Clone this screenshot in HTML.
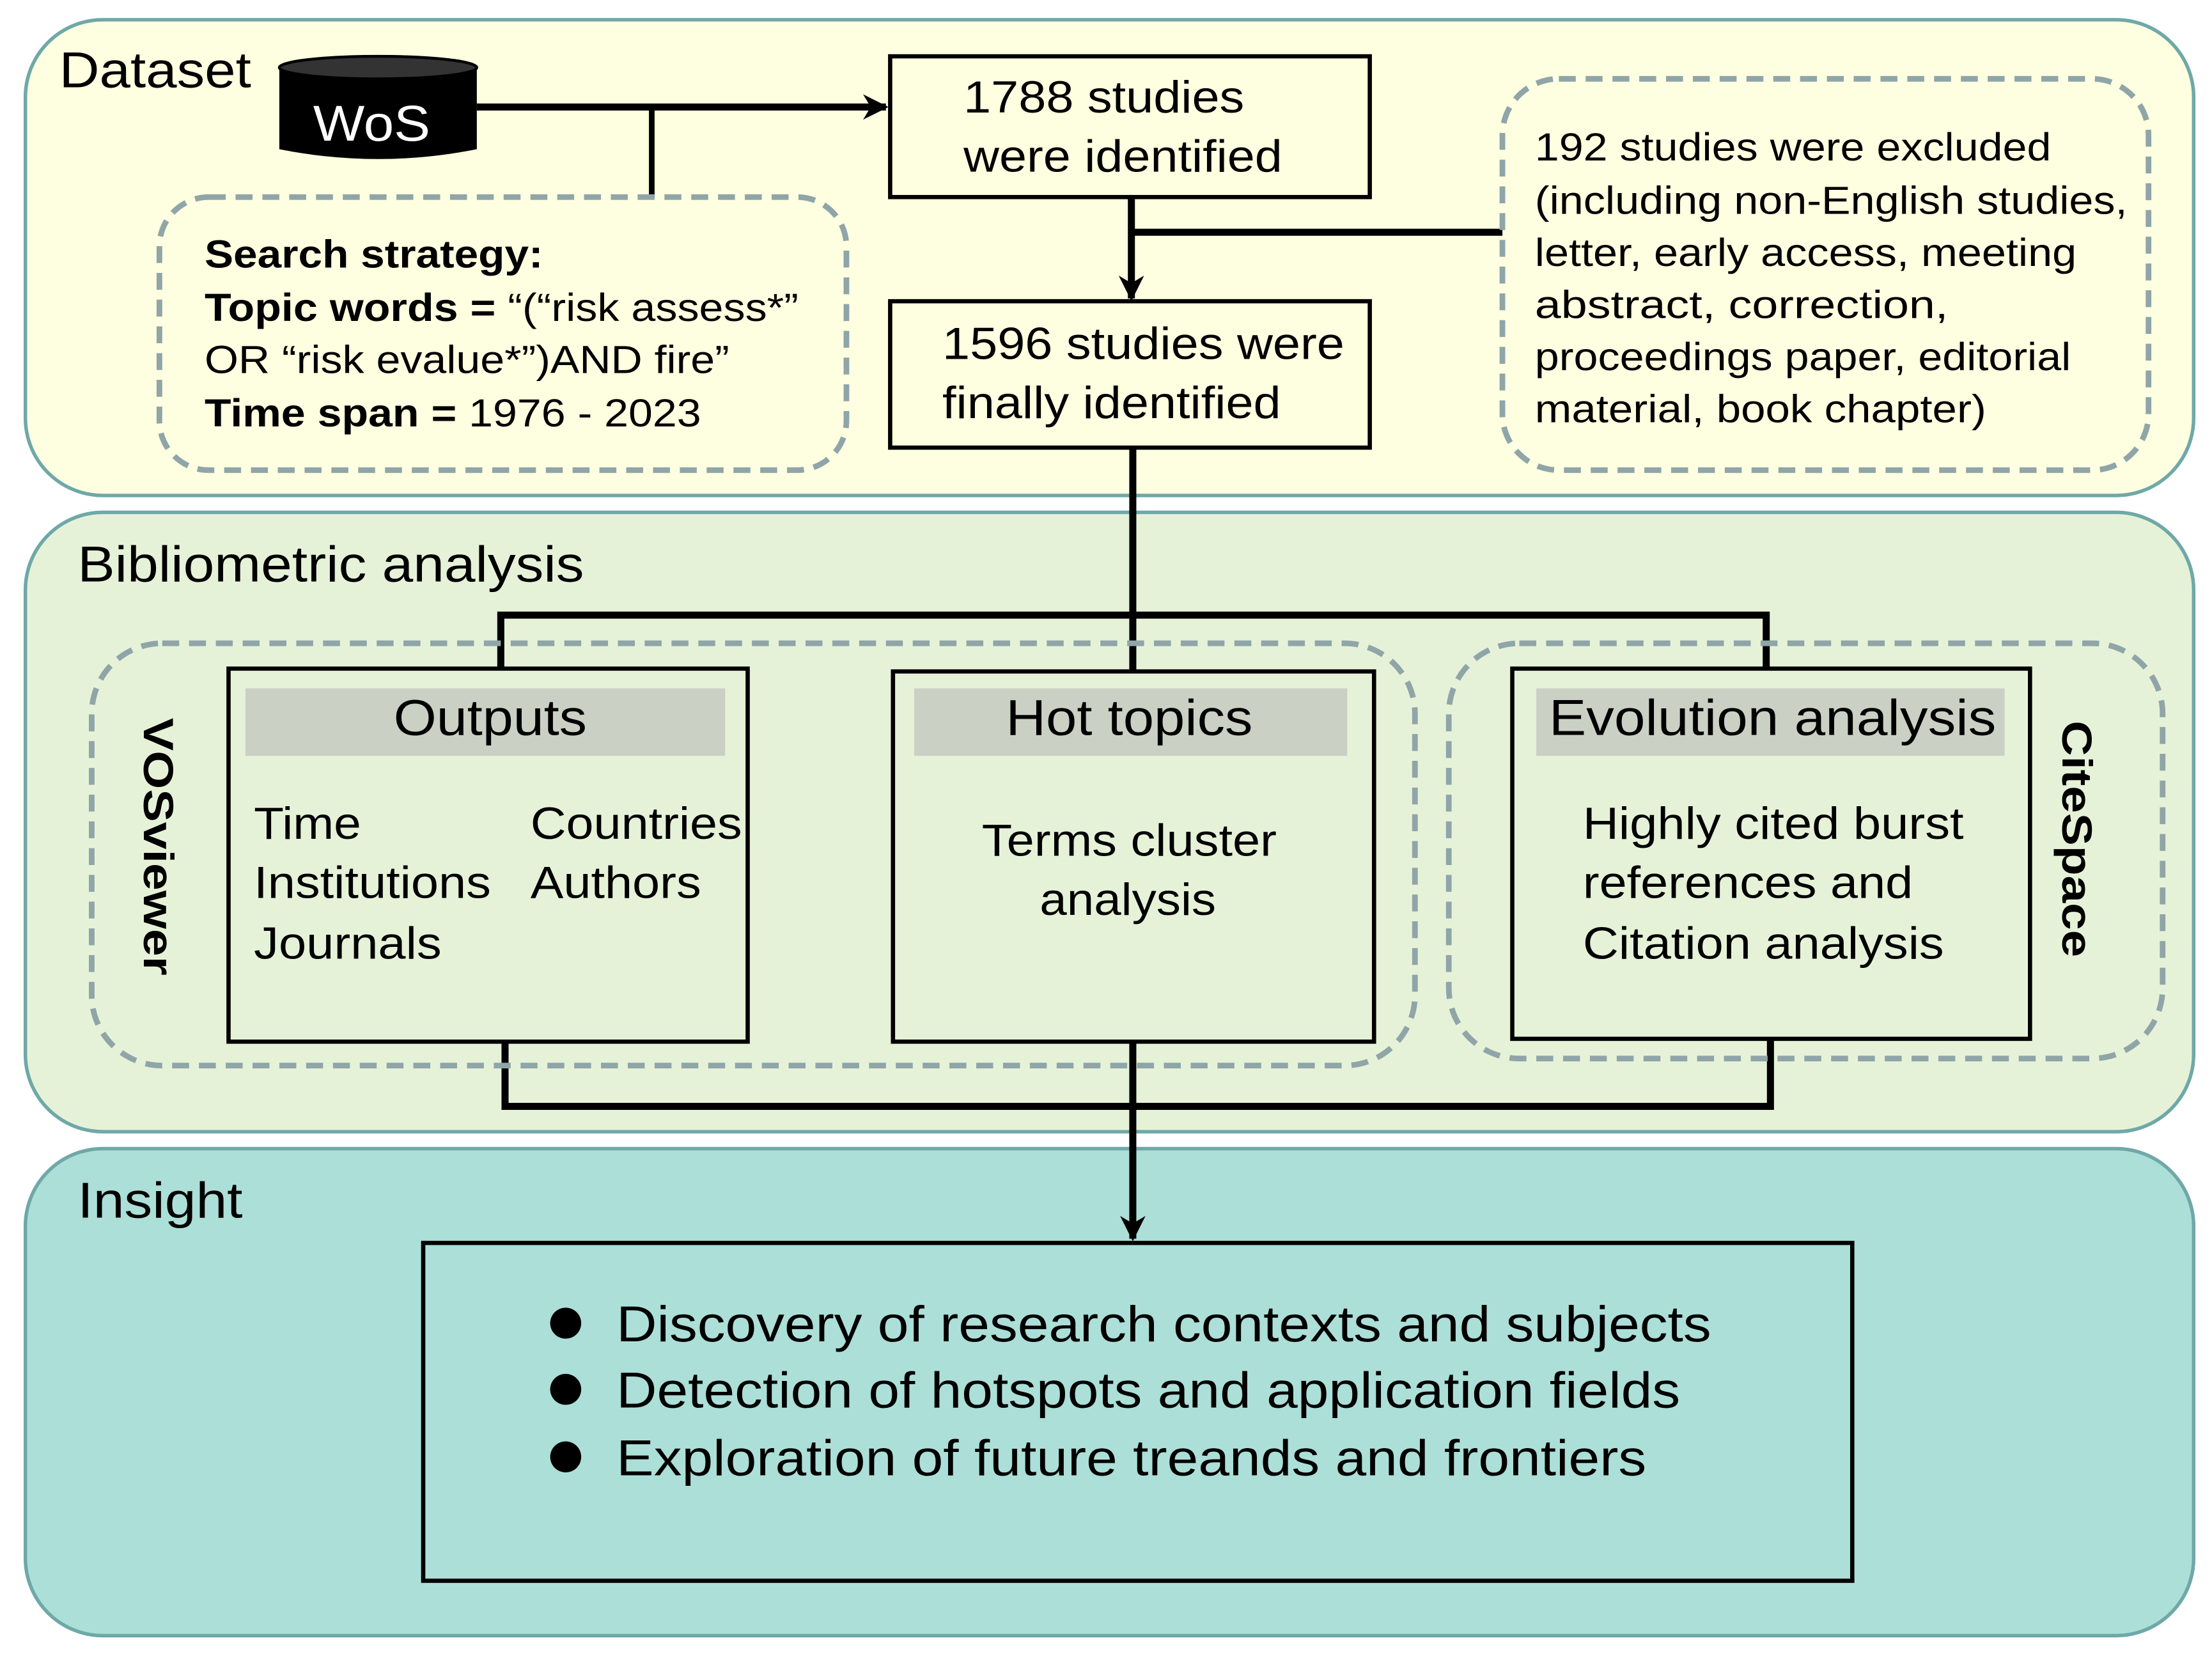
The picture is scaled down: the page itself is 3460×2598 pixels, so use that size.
<!DOCTYPE html>
<html><head><meta charset="utf-8"><style>html,body{margin:0;padding:0;background:#fff}svg{display:block}</style></head>
<body>
<svg width="3460" height="2598" viewBox="0 0 1568 1180" preserveAspectRatio="none" xmlns="http://www.w3.org/2000/svg" font-family="Liberation Sans, Arial, sans-serif">
<defs>
<marker id="ah" viewBox="0 0 10 10" refX="9" refY="5" markerWidth="30" markerHeight="18" markerUnits="userSpaceOnUse" orient="auto"><path d="M0,0 L10,5 L0,10 L3,5 z" fill="#000"/></marker>
</defs>
<rect x="18" y="14" width="1537" height="338" rx="55" fill="#fefee0" stroke="#6fa8a8" stroke-width="2.5"/>
<rect x="18" y="364" width="1537" height="440" rx="55" fill="#e6f2d8" stroke="#6fa8a8" stroke-width="2.5"/>
<rect x="18" y="816" width="1537" height="346" rx="55" fill="#acdfd8" stroke="#6fa8a8" stroke-width="2.5"/>

<g lengthAdjust="spacingAndGlyphs">
<text x="42" y="62" font-size="36" textLength="136" lengthAdjust="spacingAndGlyphs">Dataset</text>
<text x="55" y="413" font-size="36" textLength="359" lengthAdjust="spacingAndGlyphs">Bibliometric analysis</text>
<text x="55" y="865" font-size="36" textLength="117" lengthAdjust="spacingAndGlyphs">Insight</text>
</g>

<path d="M198,48 L198,106 Q268,120 338,106 L338,48 Z" fill="#000"/>
<ellipse cx="268" cy="48" rx="70" ry="8" fill="#333" stroke="#000" stroke-width="2"/>
<text x="222" y="100" font-size="36" fill="#fff" textLength="83" lengthAdjust="spacingAndGlyphs">WoS</text>

<line x1="338" y1="76" x2="628" y2="76" stroke="#000" stroke-width="5" marker-end="url(#ah)"/>
<line x1="462" y1="76" x2="462" y2="140" stroke="#000" stroke-width="4"/>
<line x1="802" y1="140" x2="802" y2="212" stroke="#000" stroke-width="5" marker-end="url(#ah)"/>
<line x1="802" y1="165" x2="1065" y2="165" stroke="#000" stroke-width="5"/>

<rect x="113" y="140" width="487" height="194" rx="35" fill="none" stroke="#8fa5a8" stroke-width="4" stroke-dasharray="12,7"/>
<g font-size="28">
<text x="145" y="190" font-weight="bold" textLength="240" lengthAdjust="spacingAndGlyphs">Search strategy:</text>
<text x="145" y="228" textLength="421" lengthAdjust="spacingAndGlyphs"><tspan font-weight="bold">Topic words = </tspan>“(“risk assess*”</text>
<text x="145" y="265" textLength="372" lengthAdjust="spacingAndGlyphs">OR “risk evalue*”)AND fire”</text>
<text x="145" y="303" textLength="352" lengthAdjust="spacingAndGlyphs"><tspan font-weight="bold">Time span = </tspan>1976 - 2023</text>
</g>

<rect x="631" y="40" width="340" height="100" fill="#fefee0" stroke="#000" stroke-width="3"/>
<text x="683" y="80" font-size="32" textLength="199" lengthAdjust="spacingAndGlyphs">1788 studies</text>
<text x="683" y="122" font-size="32" textLength="226" lengthAdjust="spacingAndGlyphs">were identified</text>
<rect x="631" y="214" width="340" height="104" fill="#fefee0" stroke="#000" stroke-width="3"/>
<text x="668" y="255" font-size="32" textLength="285" lengthAdjust="spacingAndGlyphs">1596 studies were</text>
<text x="668" y="297" font-size="32" textLength="240" lengthAdjust="spacingAndGlyphs">finally identified</text>

<rect x="1065" y="56" width="458" height="278" rx="40" fill="none" stroke="#8fa5a8" stroke-width="4" stroke-dasharray="12,7"/>
<g font-size="28">
<text x="1088" y="114" textLength="366" lengthAdjust="spacingAndGlyphs">192 studies were excluded</text>
<text x="1088" y="152" textLength="420" lengthAdjust="spacingAndGlyphs">(including non-English studies,</text>
<text x="1088" y="189" textLength="384" lengthAdjust="spacingAndGlyphs">letter, early access, meeting</text>
<text x="1088" y="226" textLength="293" lengthAdjust="spacingAndGlyphs">abstract, correction,</text>
<text x="1088" y="263" textLength="380" lengthAdjust="spacingAndGlyphs">proceedings paper, editorial</text>
<text x="1088" y="300" textLength="320" lengthAdjust="spacingAndGlyphs">material, book chapter)</text>
</g>

<line x1="803" y1="318" x2="803" y2="477" stroke="#000" stroke-width="5"/>
<polyline points="355,475 355,437 1252,437 1252,475" fill="none" stroke="#000" stroke-width="5"/>
<polyline points="358,740 358,786 1255,786 1255,738" fill="none" stroke="#000" stroke-width="5"/>
<line x1="803" y1="740" x2="803" y2="880" stroke="#000" stroke-width="5" marker-end="url(#ah)"/>

<rect x="65" y="457" width="938" height="300" rx="50" fill="none" stroke="#8fa5a8" stroke-width="4" stroke-dasharray="12,7"/>
<rect x="1027" y="457" width="506" height="295" rx="50" fill="none" stroke="#8fa5a8" stroke-width="4" stroke-dasharray="12,7"/>
<text transform="translate(102,510) rotate(90)" font-size="30" font-weight="bold" textLength="183" lengthAdjust="spacingAndGlyphs">VOSviewer</text>
<text transform="translate(1462,512) rotate(90)" font-size="30" font-weight="bold" textLength="168" lengthAdjust="spacingAndGlyphs">CiteSpace</text>

<rect x="162" y="475" width="368" height="265" fill="#e6f2d8" stroke="#000" stroke-width="3"/>
<rect x="174" y="489" width="340" height="48" fill="#cbd0c4"/>
<text x="279" y="522" font-size="36" textLength="137" lengthAdjust="spacingAndGlyphs">Outputs</text>
<g font-size="32">
<text x="180" y="596" textLength="76" lengthAdjust="spacingAndGlyphs">Time</text><text x="376" y="596" textLength="150" lengthAdjust="spacingAndGlyphs">Countries</text>
<text x="180" y="638" textLength="168" lengthAdjust="spacingAndGlyphs">Institutions</text><text x="376" y="638" textLength="121" lengthAdjust="spacingAndGlyphs">Authors</text>
<text x="180" y="681" textLength="133" lengthAdjust="spacingAndGlyphs">Journals</text>
</g>

<rect x="633" y="477" width="341" height="263" fill="#e6f2d8" stroke="#000" stroke-width="3"/>
<rect x="648" y="489" width="307" height="48" fill="#cbd0c4"/>
<text x="713" y="522" font-size="36" textLength="175" lengthAdjust="spacingAndGlyphs">Hot topics</text>
<text x="696" y="608" font-size="32" textLength="209" lengthAdjust="spacingAndGlyphs">Terms cluster</text>
<text x="737" y="650" font-size="32" textLength="125" lengthAdjust="spacingAndGlyphs">analysis</text>

<rect x="1072" y="475" width="367" height="263" fill="#e6f2d8" stroke="#000" stroke-width="3"/>
<rect x="1089" y="489" width="332" height="48" fill="#cbd0c4"/>
<text x="1098" y="522" font-size="36" textLength="317" lengthAdjust="spacingAndGlyphs">Evolution analysis</text>
<g font-size="32">
<text x="1122" y="596" textLength="270" lengthAdjust="spacingAndGlyphs">Highly cited burst</text>
<text x="1122" y="638" textLength="234" lengthAdjust="spacingAndGlyphs">references and</text>
<text x="1122" y="681" textLength="256" lengthAdjust="spacingAndGlyphs">Citation analysis</text>
</g>

<rect x="300" y="883" width="1013" height="240" fill="#acdfd8" stroke="#000" stroke-width="3"/>
<g font-size="36">
<circle cx="401" cy="940" r="11"/><text x="437" y="953" textLength="776" lengthAdjust="spacingAndGlyphs">Discovery of research contexts and subjects</text>
<circle cx="401" cy="987" r="11"/><text x="437" y="1000" textLength="754" lengthAdjust="spacingAndGlyphs">Detection of hotspots and application fields</text>
<circle cx="401" cy="1035" r="11"/><text x="437" y="1048" textLength="730" lengthAdjust="spacingAndGlyphs">Exploration of future treands and frontiers</text>
</g>
</svg>
</body></html>
